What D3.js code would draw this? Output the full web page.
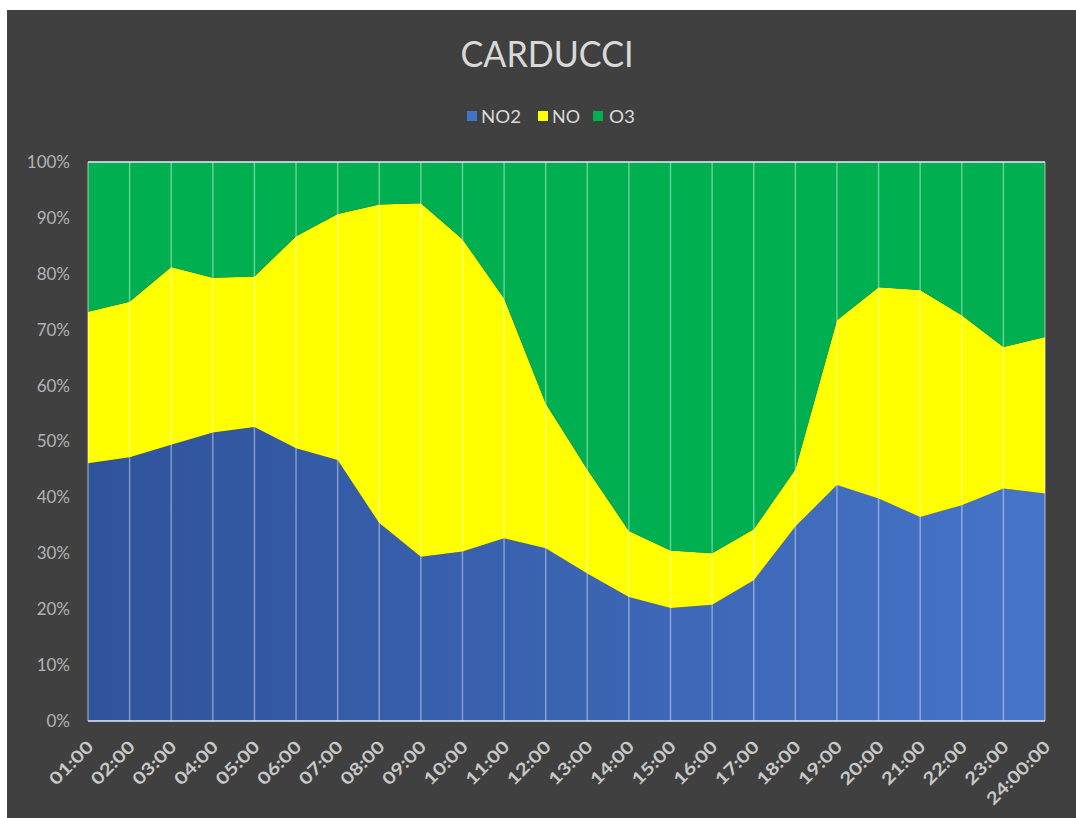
<!DOCTYPE html>
<meta charset="utf-8">
<html>
<head>
<script src="https://d3js.org/d3.v7.min.js"></script>
<style>
  body { margin: 0; background: #fff; }
  text { font-family: Lato, "Open Sans", sans-serif; }
</style>
</head>
<body>
<div id="my_dataviz"></div>
<script>

// categories (hours)
var hours = ["01:00","02:00","03:00","04:00","05:00","06:00","07:00","08:00","09:00","10:00","11:00","12:00",
             "13:00","14:00","15:00","16:00","17:00","18:00","19:00","20:00","21:00","22:00","23:00","24:00:00"];

// series values (share, %)
var no2 = [46.1, 47.2, 49.4, 51.6, 52.6, 48.8, 46.7, 35.4, 29.4, 30.3, 32.7, 30.9,
           26.4, 22.2, 20.2, 20.8, 25.2, 34.8, 42.2, 39.8, 36.5, 38.6, 41.6, 40.7];
var no  = [27.1, 27.8, 31.8, 27.7, 26.9, 37.9, 44.0, 57.0, 63.2, 55.9, 42.9, 25.9,
           18.6, 11.8, 10.3,  9.2,  9.1, 10.2, 29.5, 37.8, 40.6, 34.0, 25.3, 28.0];
var o3  = [26.8, 25.0, 18.8, 20.7, 20.5, 13.3,  9.3,  7.6,  7.4, 13.8, 24.4, 43.2,
           55.0, 66.0, 69.5, 70.0, 65.7, 55.0, 28.3, 22.4, 22.9, 27.4, 33.1, 31.3];

var seriesNames = ["NO2", "NO", "O3"];
var colors = {NO2: "url(#blueGrad)", NO: "#ffff00", O3: "#00b050"};
var legendColors = {NO2: "#4472c4", NO: "#ffff00", O3: "#00b050"};

var table = hours.map(function(h, i) {
  return {hour: h, NO2: no2[i], NO: no[i], O3: o3[i]};
});

// dimensions
var W = 1076, H = 818;
var margin = {top: 162, left: 88},
    width = 957,
    height = 559;

var root = d3.select("#my_dataviz")
  .append("svg")
    .attr("width", W)
    .attr("height", H);

// chart background
root.append("rect")
  .attr("x", 7).attr("y", 10)
  .attr("width", W - 7).attr("height", H - 10)
  .attr("fill", "#404040");

var defs = root.append("defs");
var grad = defs.append("linearGradient")
  .attr("id", "blueGrad")
  .attr("gradientUnits", "userSpaceOnUse")
  .attr("x1", 0).attr("x2", width).attr("y1", 0).attr("y2", 0);
grad.append("stop").attr("offset", "0%").attr("stop-color", "#2f539b");
grad.append("stop").attr("offset", "100%").attr("stop-color", "#4674c8");

// title
root.append("text")
  .attr("x", 547).attr("y", 67)
  .attr("text-anchor", "middle")
  .attr("font-size", 36)
  .attr("textLength", 173)
  .attr("lengthAdjust", "spacingAndGlyphs")
  .attr("fill", "#d9d9d9")
  .text("CARDUCCI");

// legend
var legendItems = [
  {name: "NO2", x: 467, tx: 481, w: 40},
  {name: "NO",  x: 538, tx: 552, w: 28},
  {name: "O3",  x: 593, tx: 609, w: 26}
];
var lg = root.append("g");
lg.selectAll("rect").data(legendItems).enter().append("rect")
  .attr("x", function(d) { return d.x; })
  .attr("y", 111)
  .attr("width", 10).attr("height", 10)
  .attr("fill", function(d) { return legendColors[d.name]; });
lg.selectAll("text").data(legendItems).enter().append("text")
  .attr("x", function(d) { return d.tx; })
  .attr("y", 123)
  .attr("font-size", 17)
  .attr("textLength", function(d) { return d.w; })
  .attr("lengthAdjust", "spacingAndGlyphs")
  .attr("fill", "#d9d9d9")
  .text(function(d) { return d.name; });

var svg = root.append("g")
  .attr("transform", "translate(" + margin.left + "," + margin.top + ")");

// scales
var x = d3.scalePoint()
  .domain(hours)
  .range([0, width]);

var y = d3.scaleLinear()
  .domain([0, 1])
  .range([height, 0]);

// stacked 100% areas
var stack = d3.stack()
  .keys(seriesNames)
  .offset(d3.stackOffsetExpand);
var layers = stack(table);

var area = d3.area()
  .x(function(d) { return x(d.data.hour); })
  .y0(function(d) { return y(d[0]); })
  .y1(function(d) { return y(d[1]); });

svg.selectAll(".layer")
  .data(layers)
  .enter()
  .append("path")
    .attr("class", "layer")
    .attr("d", area)
    .attr("fill", function(d) { return colors[d.key]; });

// vertical gridlines
svg.selectAll(".vgrid")
  .data(hours)
  .enter()
  .append("line")
    .attr("class", "vgrid")
    .attr("x1", function(d) { return x(d); })
    .attr("x2", function(d) { return x(d); })
    .attr("y1", 0).attr("y2", height)
    .attr("stroke", "#ffffff")
    .attr("stroke-opacity", 0.4)
    .attr("stroke-width", 1.5);

// top and bottom lines
svg.selectAll(".hline")
  .data([0, 1])
  .enter()
  .append("line")
    .attr("class", "hline")
    .attr("x1", 0).attr("x2", width)
    .attr("y1", function(d) { return y(d); })
    .attr("y2", function(d) { return y(d); })
    .attr("stroke", "#d9e2f3")
    .attr("stroke-opacity", 0.8)
    .attr("stroke-width", 2);

// Y axis
var yAxis = svg.append("g")
  .call(d3.axisLeft(y).tickValues(d3.range(0, 1.01, 0.1)).tickFormat(d3.format(".0%")).tickSize(0).tickPadding(18));
yAxis.select(".domain").remove();
yAxis.selectAll("text")
  .attr("font-size", 17)
  .attr("fill", "#b4b4b4")
  .attr("font-family", "Lato, sans-serif");

// X axis
var xAxis = svg.append("g")
  .attr("transform", "translate(0," + height + ")")
  .call(d3.axisBottom(x).tickSize(0).tickPadding(0));
xAxis.select(".domain").remove();
xAxis.selectAll("text")
  .attr("font-size", 17)
  .attr("font-weight", "bold")
  .attr("fill", "#c8c8c8")
  .attr("font-family", "Lato, sans-serif")
  .attr("text-anchor", "end")
  .attr("dy", 0)
  .attr("textLength", function(d) { return d.length > 5 ? 82 : 54; })
  .attr("lengthAdjust", "spacingAndGlyphs")
  .attr("transform", "translate(6,27) rotate(-45)");

</script>
</body>
</html>
